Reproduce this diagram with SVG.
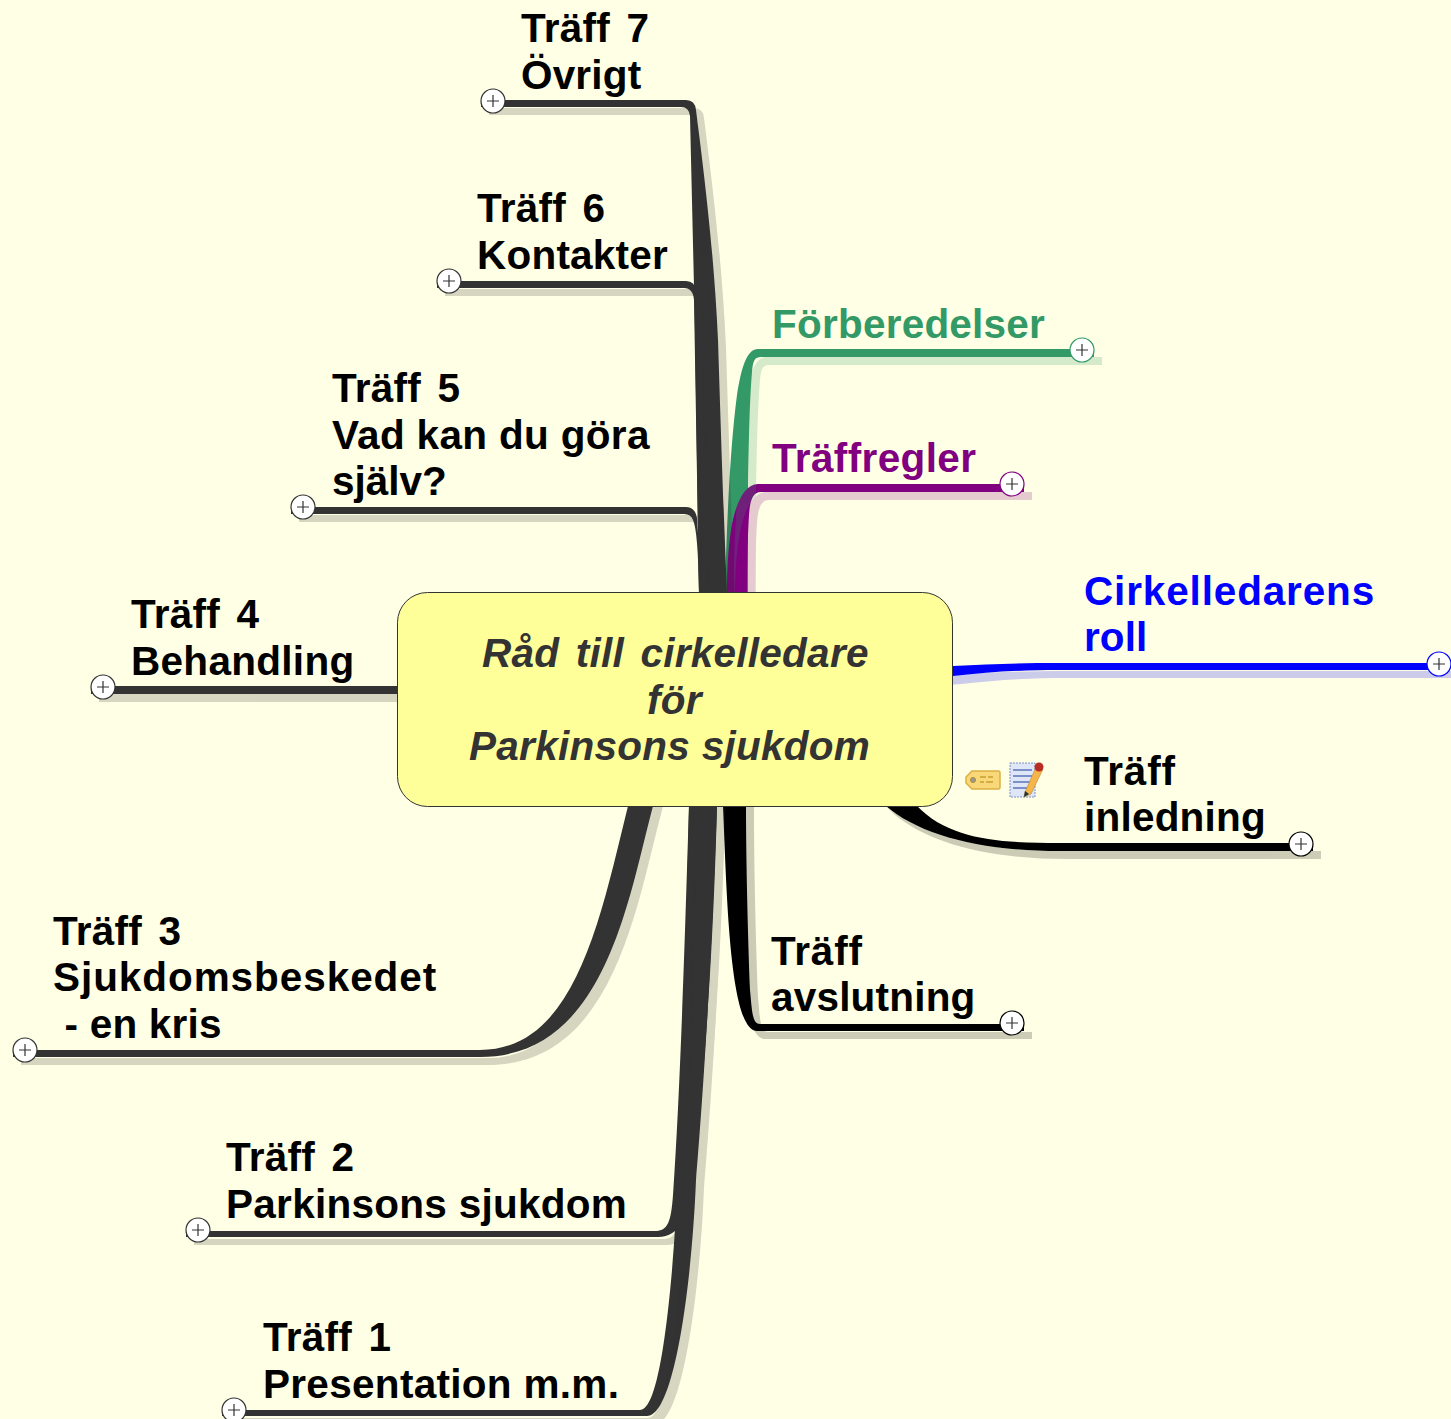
<svg xmlns="http://www.w3.org/2000/svg" width="1451" height="1419" viewBox="0 0 1451 1419">
<style>
text{font-family:"Liberation Sans",Arial,sans-serif;font-weight:bold;font-size:40.5px;fill:#000}
.t{word-spacing:5px;letter-spacing:.25px}
.root text{font-style:italic;fill:#333}
.dk{fill:#333}.gr{fill:#396}.pu{fill:#800080}.bl{fill:#00f}.k{fill:#000}
.s{opacity:.2}
#plus circle{fill:#fff;stroke-width:1.2}
#plus path{fill:none;stroke:#333;stroke-width:1.2}
</style>
<defs>
<g id="plus"><circle r="12"/><path d="M-6,0H6M0,-6V6"/></g>
<path id="e7" d="M481,100L686,100Q695,100 696,110C703,165 714,250 718,340C720,400 723,500 727,593L699,593L695,330L690,116Q689,107 681,107L481,107Z"/>
<path id="e6" d="M437,281L686,281Q695,281 696,291L702,593L699,593L694,300Q693,288 684,288L437,288Z"/>
<path id="e5" d="M291,507L686,507Q695,507 697,518L702,593L699,593Q698,530 693,520Q691,514 684,514L291,514Z"/>
<path id="e4" d="M91,686L410,686L410,694L91,694Z"/>
<path id="e3" d="M13,1050L480,1050C575,1050 600,920 628,806L632,790L657,790L653,806C628,900 605,1057 480,1057L13,1057Z"/>
<path id="e2" d="M186,1231L655,1231C668,1231 671,1222 673,1195C681,1080 686,900 689,806L690,790L718,790L717,806C712,1000 700,1100 695,1180C690,1215 680,1237 658,1237L186,1237Z"/>
<path id="e1" d="M222,1410L640,1410C655,1410 665,1350 672,1270C680,1180 685,1000 689,806L690,790L718,790L717,806C710,1000 701,1120 696,1180C692,1280 675,1416 647,1416L222,1416Z"/>
<path id="eg" d="M1094,349L758,349C746,349 741,370 737,395C731,440 727,510 725,593L748,593L748,485C749,430 750,395 752,372C753,360 755,357 761,357L1094,357Z"/>
<path id="ep" d="M1024,484L758,484C744,484 735,505 731,530C728,550 727,570 727,593L747,593C747,560 748,530 749,515C750,500 753,492 761,492L1024,492Z"/>
<path id="ec" d="M940,667L953,666C990,664 1020,663 1060,663L1445,663L1445,670L1060,670C1020,670 990,672 953,676L940,677Z"/>
<path id="ei" d="M870,790L886,806C920,835 980,851 1060,851L1313,851L1313,843L1060,843C1000,843 950,840 917,806L900,790Z"/>
<path id="ea" d="M722,790L723,806C727,900 730,1031 757,1031L1024,1031L1024,1024L760,1024C752,1024 752,1010 750,990C748,940 746,860 746,806L746,790Z"/>
</defs>
<rect width="1451" height="1419" fill="#ffffe5"/>
<g id="connectors">
<use href="#eg" class="gr"/><use href="#ep" class="pu"/><use href="#ec" class="bl"/><use href="#ei" class="k"/><use href="#ea" class="k"/>
<use href="#e7" class="dk"/><use href="#e6" class="dk"/><use href="#e5" class="dk"/><use href="#e4" class="dk"/><use href="#e3" class="dk"/><use href="#e2" class="dk"/><use href="#e1" class="dk"/>
<g class="s" transform="translate(8,8)">
<use href="#eg" class="gr"/><use href="#ep" class="pu"/><use href="#ec" class="bl"/><use href="#ei" class="k"/><use href="#ea" class="k"/>
<use href="#e7" class="dk"/><use href="#e6" class="dk"/><use href="#e5" class="dk"/><use href="#e4" class="dk"/><use href="#e3" class="dk"/><use href="#e2" class="dk"/><use href="#e1" class="dk"/>
</g>
</g>
<g id="root" class="root">
<rect x="397.500" y="592.500" width="555" height="214" rx="30" fill="#ffff99" stroke="#333" stroke-width="1"/>
<text x="482" y="667" class="t" letter-spacing=".33">Råd till cirkelledare</text>
<text x="647" y="714" letter-spacing=".3">för</text>
<text x="469" y="760" letter-spacing=".28">Parkinsons sjukdom</text>
</g>
<g id="n7"><text x="521" y="42" class="t">Träff 7</text><text x="521" y="89" letter-spacing=".17">Övrigt</text><use href="#plus" x="493" y="101" stroke="#333"/></g>
<g id="n6"><text x="477" y="222" class="t">Träff 6</text><text x="477" y="269" letter-spacing=".22">Kontakter</text><use href="#plus" x="449" y="281" stroke="#333"/></g>
<g id="n5"><text x="332" y="402" class="t">Träff 5</text><text x="332" y="449" letter-spacing=".33">Vad kan du göra</text><text x="332" y="495">själv?</text><use href="#plus" x="303" y="507" stroke="#333"/></g>
<g id="n4"><text x="131" y="628" class="t">Träff 4</text><text x="131" y="675" letter-spacing=".3">Behandling</text><use href="#plus" x="103" y="687" stroke="#333"/></g>
<g id="n3"><text x="53" y="945" class="t">Träff 3</text><text x="53" y="991" letter-spacing=".94">Sjukdomsbeskedet</text><text x="53" y="1038" xml:space="preserve" letter-spacing=".22"> - en kris</text><use href="#plus" x="25" y="1050" stroke="#333"/></g>
<g id="n2"><text x="226" y="1171" class="t">Träff 2</text><text x="226" y="1218" letter-spacing=".28">Parkinsons sjukdom</text><use href="#plus" x="198" y="1230" stroke="#333"/></g>
<g id="n1"><text x="263" y="1351" class="t">Träff 1</text><text x="263" y="1398" letter-spacing=".3">Presentation m.m.</text><use href="#plus" x="234" y="1410" stroke="#333"/></g>
<g id="nf"><text x="772" y="338" style="fill:#396" letter-spacing=".23">Förberedelser</text><use href="#plus" x="1082" y="350" stroke="#396"/></g>
<g id="nt"><text x="772" y="472" style="fill:#800080" letter-spacing=".36">Träffregler</text><use href="#plus" x="1012" y="484" stroke="#800080"/></g>
<g id="nc"><text x="1084" y="605" style="fill:#00f" letter-spacing=".85">Cirkelledarens</text><text x="1084" y="651" style="fill:#00f" letter-spacing=".1">roll</text><use href="#plus" x="1439" y="664" stroke="#00f"/></g>
<g id="ni"><text x="1084" y="785" letter-spacing=".8">Träff</text><text x="1084" y="831" letter-spacing=".22">inledning</text><use href="#plus" x="1301" y="844" stroke="#000"/>
<g id="icons">
<path d="M972,771H998Q1000,771 1000,773V787Q1000,789 998,789H972L966,783V777Z" fill="#f8d878" stroke="#dcb040" stroke-width="1.500"/>
<circle cx="973" cy="780" r="2.500" fill="#999" stroke="#b08830"/>
<path d="M980,777H986M988,777H993M980,782H984M986,782H993" stroke="#c9a030" stroke-width="1.500" fill="none"/>
<rect x="1010" y="763" width="25" height="34" fill="#dfe6f7" stroke="#7d8fc8" stroke-dasharray="2 1"/>
<path d="M1013,770H1032M1013,776H1032M1013,782H1030M1013,788H1028" stroke="#7d8fc8" stroke-width="2" fill="none"/>
<path d="M1025,792L1037,765L1043,769L1031,794L1024,797Z" fill="#f5b54a" stroke="#b08830" stroke-width=".6"/>
<path d="M1024,797L1025,791L1029,794Z" fill="#234"/>
<circle cx="1039" cy="767" r="4.500" fill="#b92c22"/>
</g></g>
<g id="na"><text x="771" y="965" letter-spacing=".8">Träff</text><text x="771" y="1011" letter-spacing=".2">avslutning</text><use href="#plus" x="1012" y="1023" stroke="#000"/></g>
</svg>
